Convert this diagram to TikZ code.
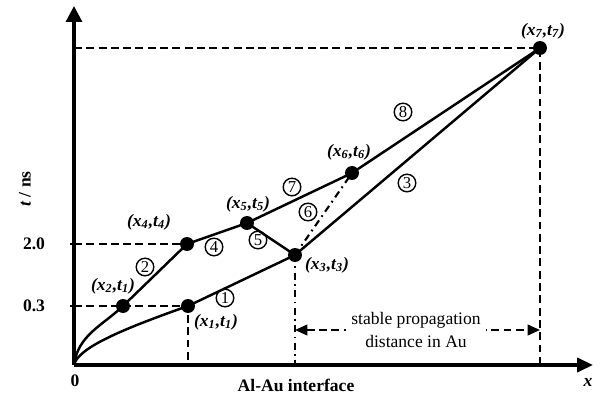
\documentclass[tikz,border=0pt]{standalone}
\usepackage{fontspec}
\setmainfont{Liberation Serif}
\usetikzlibrary{arrows.meta}
\newcommand{\xtlab}[2]{\textbf{\itshape(x\textsubscript{#1},t\textsubscript{#2})}}

\begin{document}
\begin{tikzpicture}[x=0.02cm,y=-0.02cm,font=\fontsize{10}{12}\selectfont,
  track/.style={line width=1.4pt},
  guide/.style={line width=1.2pt,dash pattern=on 4.5pt off 2.5pt},
  guidedot/.style={line width=1.2pt,dash pattern=on 4pt off 2.5pt on 1pt off 2.5pt},
  num/.style={circle,draw,line width=0.8pt,minimum size=10pt,inner sep=0pt,
    font=\fontsize{9.5}{9.5}\selectfont},
  lab/.style={inner sep=1pt}]
  \useasboundingbox (0,0) rectangle (600,396);
  % points of the paths
  \coordinate (o) at (74,365);
  \coordinate (p1) at (188,306);
  \coordinate (p2) at (123,306);
  \coordinate (p3) at (295,255);
  \coordinate (p4) at (187,244);
  \coordinate (p5) at (247,223);
  \coordinate (p6) at (352,173);
  \coordinate (p7) at (540,48);
  \coordinate (ytip) at (74,6);
  \coordinate (xtip) at (593,365);
  \coordinate (dy) at (0,330);
  % guide lines
  \draw[guide] (o |- p7) -- (p7) -- (p7 |- o);
  \draw[guide] (o |- p4) -- (p4);
  \draw[guide] (o |- p2) -- (p1) -- (p1 |- o);
  \draw[guidedot] (p3) -- (p3 |- o);
  \draw[guidedot] (p3) -- (p6);
  % axes
  \draw[line width=1.8pt,-{Triangle[length=9pt,width=9pt]}] (o) -- (ytip);
  \draw[line width=1.8pt,-{Triangle[length=9pt,width=8pt]}] (o) -- (xtip);
  \draw[line width=1.2pt] (o |- p2) -- ++(-4,0) (o |- p4) -- ++(-4,0);
  % paths
  \draw[track] (o) .. controls (78,335) and (102,326) .. (p2) -- (p4) -- (p5) -- (p6) -- (p7);
  \draw[track] (o) .. controls (78,348) and (120,330) .. (p1) -- (p3) -- (p7);
  \draw[track] (p5) -- (p3);
  \foreach \i in {1,...,7} \fill (p\i) circle[radius=7];
  % propagation distance
  \draw[line width=1.2pt,dash pattern=on 4.5pt off 2.5pt,
    {Triangle[length=7pt,width=6pt]}-{Triangle[length=7pt,width=6pt]}] (p3 |- dy) -- (p7 |- dy);
  \node[fill=white,align=center,inner xsep=3pt,inner ysep=0pt,
    font=\fontsize{10}{13}\selectfont] (dist) at (416,330) {stable propagation\\distance in Au};
  % labels
  \node[lab] (l7) at (543,31) {\xtlab{7}{7}};
  \node[lab] (l6) at (349,152) {\xtlab{6}{6}};
  \node[lab] (l5) at (248,204) {\xtlab{5}{5}};
  \node[lab] (l4) at (149,222) {\xtlab{4}{4}};
  \node[lab] (l2) at (113,286) {\xtlab{2}{1}};
  \node[lab] (l1) at (216,322) {\xtlab{1}{1}};
  \node[lab] (l3) at (327,265) {\xtlab{3}{3}};
  \foreach \n/\x/\y in {1/225/298,2/145/267,3/407/183,4/214/247,5/258/240,6/308/212,7/292/187,8/403/112}
    \node[num] (n\n) at (\x,\y) {\n};
  % axis texts
  \node (zero) at (75,381) {\textbf{0}};
  \node (v03) at (34,306) {\textbf{0.3}};
  \node (v20) at (34,244) {\textbf{2.0}};
  \node[rotate=90] (tlab) at (25,189) {\textbf{\textit{t} / ns}};
  \node (xlab) at (588,382) {\textbf{\textit{x}}};
  \node (iface) at (296,385) {\textbf{Al-Au interface}};
\end{tikzpicture}
\end{document}
